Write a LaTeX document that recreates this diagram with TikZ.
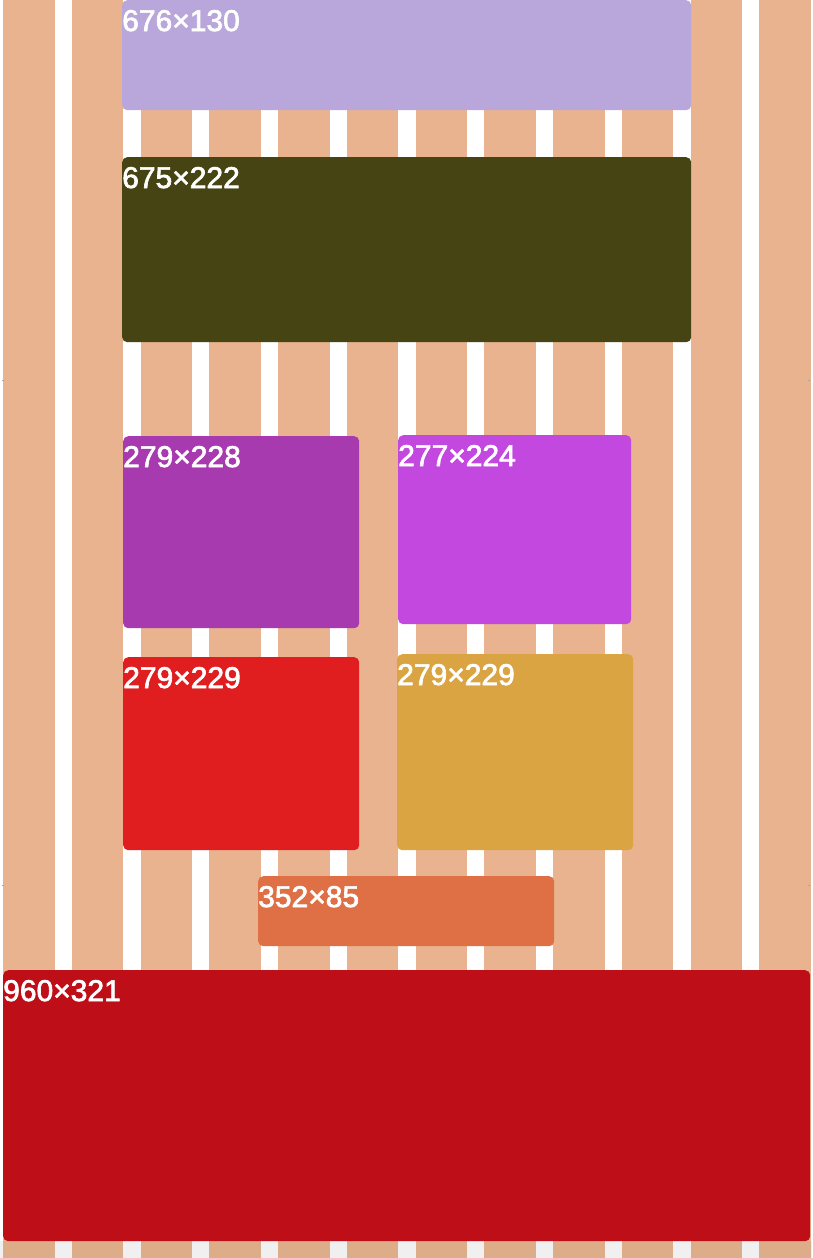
\documentclass[tikz,border=0pt]{standalone}
\usepackage{fontspec}
\setmainfont{Liberation Sans}
\newfontfamily\lblfont[FakeBold=2.2]{Liberation Sans}
\definecolor{stripe}{HTML}{E9B38F}
\definecolor{stripelow}{HTML}{DDAC89}
\definecolor{gaplow}{HTML}{F0F0F0}
\definecolor{cLav}{HTML}{B9A7DB}
\definecolor{cOlive}{HTML}{464413}
\definecolor{cPurA}{HTML}{A83AB0}
\definecolor{cPurB}{HTML}{C248E0}
\definecolor{cRed}{HTML}{E01E20}
\definecolor{cGold}{HTML}{DBA443}
\definecolor{cOrange}{HTML}{DF7045}
\definecolor{cDeep}{HTML}{BE0F19}
\tikzset{
  box/.style={draw=none, rounded corners=5pt, inner sep=0pt, anchor=north west},
  lbl/.style={text=white, font=\lblfont\fontsize{30}{30}\selectfont, inner sep=0pt, anchor=base west},
  tick/.style={draw=gray!70, line width=0.8pt}
}
\begin{document}
\begin{tikzpicture}[x=1pt,y=-1pt]
\useasboundingbox (0,0) rectangle (812,1258);
\fill[white] (0,0) rectangle (812,1258);
\fill[gaplow] (0,1241) rectangle (812,1258);
% stripes
\foreach \i in {0,...,11}{
  \fill[stripe] ({3+68.75*\i},0) rectangle ({54.5+68.75*\i},1241);
  \fill[stripelow] ({3+68.75*\i},1241) rectangle ({54.5+68.75*\i},1258);
}
% edge ticks
\draw[tick] (2,380) -- (4,380);
\draw[tick] (808,380) -- (810,380);
\draw[tick] (2,885) -- (4,885);
\draw[tick] (808,885) -- (810,885);
% boxes
\node[box, fill=cLav, minimum width=569pt, minimum height=110pt] (b1) at (122,0) {};
\node[lbl] (l1) at ([yshift=-31pt]b1.north west) {676×130};
\node[box, fill=cOlive, minimum width=569pt, minimum height=185pt] (b2) at (122,157) {};
\node[lbl] (l2) at ([yshift=-31pt]b2.north west) {675×222};
\node[box, fill=cPurA, minimum width=236pt, minimum height=192pt] (b3) at (123,436) {};
\node[lbl] (l3) at ([yshift=-31pt]b3.north west) {279×228};
\node[box, fill=cPurB, minimum width=233pt, minimum height=189pt] (b4) at (398,435) {};
\node[lbl] (l4) at ([yshift=-31pt]b4.north west) {277×224};
\node[box, fill=cRed, minimum width=236pt, minimum height=193pt] (b5) at (123,657) {};
\node[lbl] (l5) at ([yshift=-31pt]b5.north west) {279×229};
\node[box, fill=cGold, minimum width=236pt, minimum height=196pt] (b6) at (397,654) {};
\node[lbl] (l6) at ([yshift=-31pt]b6.north west) {279×229};
\node[box, fill=cOrange, minimum width=296pt, minimum height=70pt] (b7) at (258,876) {};
\node[lbl] (l7) at ([yshift=-31pt]b7.north west) {352×85};
\node[box, fill=cDeep, minimum width=807pt, minimum height=271pt] (b8) at (3,970) {};
\node[lbl] (l8) at ([yshift=-31pt]b8.north west) {960×321};
\end{tikzpicture}
\end{document}
